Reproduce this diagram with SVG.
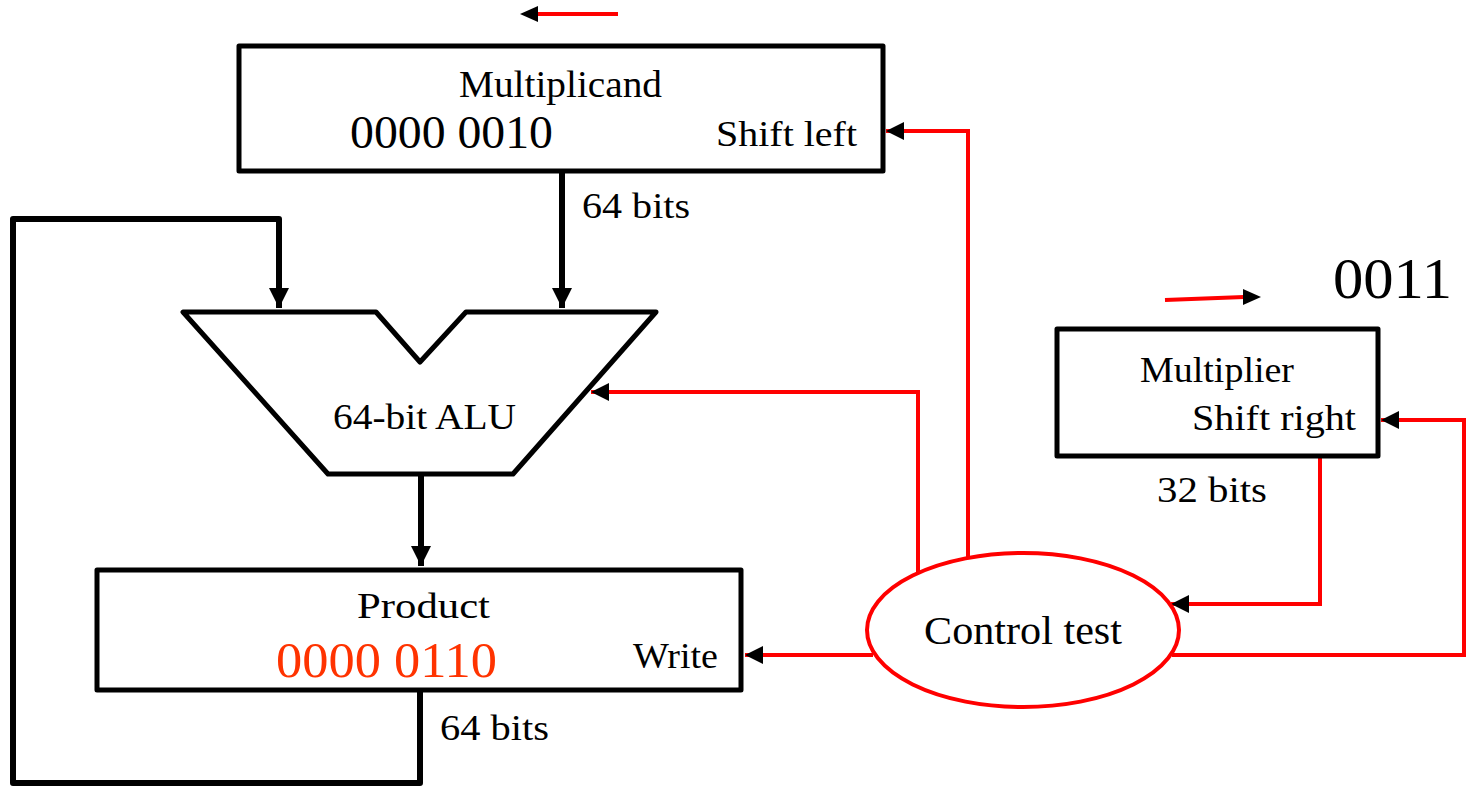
<svg xmlns="http://www.w3.org/2000/svg" width="1474" height="793" viewBox="0 0 1474 793">
<style>
.box{fill:#fff;stroke:#000;stroke-width:5;stroke-linejoin:round}
.t{font-family:"Liberation Serif","Times New Roman",serif;fill:#000}
.blk{fill:none;stroke:#000;stroke-width:6;stroke-linejoin:round}
.red{fill:none;stroke:#ff0000;stroke-width:4}
</style>
<defs>
<marker id="ah" viewBox="0 0 20 20" refX="20" refY="10" markerWidth="20" markerHeight="20" markerUnits="userSpaceOnUse" orient="auto">
<path d="M0,0 L20,10 L0,20 z" fill="#000"/>
</marker>
<marker id="ahs" viewBox="0 0 18 18" refX="18" refY="9" markerWidth="18" markerHeight="18" markerUnits="userSpaceOnUse" orient="auto">
<path d="M0,0 L18,9 L0,18 z" fill="#000"/>
</marker>
</defs>
<rect width="1474" height="793" fill="#fff"/>

<g id="connectors">
<path class="blk" d="M562,171 V308" marker-end="url(#ah)"/>
<path class="blk" d="M420,690 V783 H13 V219 H279 V308" marker-end="url(#ah)"/>
<path class="blk" d="M421,474 V566" marker-end="url(#ah)"/>
<path class="red" d="M968,558 V131 H886" marker-end="url(#ahs)"/>
<path class="red" d="M918,573 V392 H591" marker-end="url(#ahs)"/>
<path class="red" d="M873,655 H745" marker-end="url(#ahs)"/>
<path class="red" d="M1320,456 V604 H1171" marker-end="url(#ahs)"/>
<path class="red" d="M1172,655 H1464 V420 H1381" marker-end="url(#ahs)"/>
</g>

<g id="shift-left-indicator">
<line x1="618" y1="14" x2="535" y2="14" class="red"/>
<path d="M520,14 L538,6 L538,22 z" fill="#000"/>
</g>

<g id="shift-right-indicator">
<line x1="1165" y1="300" x2="1244" y2="297" class="red"/>
<path d="M1261,297 L1243,289 L1243,305 z" fill="#000"/>
<text class="t" x="1333" y="298" font-size="57" textLength="119" lengthAdjust="spacingAndGlyphs">0011</text>
</g>

<g id="multiplicand">
<rect class="box" x="239" y="46" width="644" height="125"/>
<text class="t" x="459" y="97" font-size="38" textLength="203" lengthAdjust="spacingAndGlyphs">Multiplicand</text>
<text class="t" x="350" y="148" font-size="47" textLength="203" lengthAdjust="spacingAndGlyphs">0000 0010</text>
<text class="t" x="716" y="146" font-size="36" textLength="141" lengthAdjust="spacingAndGlyphs">Shift left</text>
</g>
<text class="t" x="582" y="218" font-size="35" textLength="108" lengthAdjust="spacingAndGlyphs">64 bits</text>

<g id="alu">
<path class="box" d="M183,312 H376 L420,362 L466,312 H656 L513,474 H328 Z"/>
<text class="t" x="333" y="429" font-size="35" textLength="183" lengthAdjust="spacingAndGlyphs">64-bit ALU</text>
</g>

<g id="product">
<rect class="box" x="97" y="570" width="644" height="120"/>
<text class="t" x="357" y="618" font-size="35" textLength="133" lengthAdjust="spacingAndGlyphs">Product</text>
<text class="t" x="276" y="677" font-size="50" style="fill:#ff3300" textLength="221" lengthAdjust="spacingAndGlyphs">0000 0110</text>
<text class="t" x="633" y="668" font-size="35" textLength="85" lengthAdjust="spacingAndGlyphs">Write</text>
</g>
<text class="t" x="440" y="740" font-size="35" textLength="109" lengthAdjust="spacingAndGlyphs">64 bits</text>

<g id="multiplier">
<rect class="box" x="1057" y="329" width="321" height="127"/>
<text class="t" x="1140" y="382" font-size="36" textLength="154" lengthAdjust="spacingAndGlyphs">Multiplier</text>
<text class="t" x="1192" y="430" font-size="36" textLength="164" lengthAdjust="spacingAndGlyphs">Shift right</text>
</g>
<text class="t" x="1157" y="502" font-size="35" textLength="110" lengthAdjust="spacingAndGlyphs">32 bits</text>

<g id="control-test">
<ellipse cx="1023" cy="630" rx="156" ry="77" fill="#fff" stroke="#ff0000" stroke-width="4"/>
<text class="t" x="924" y="644" font-size="41" textLength="198" lengthAdjust="spacingAndGlyphs">Control test</text>
</g>
</svg>
